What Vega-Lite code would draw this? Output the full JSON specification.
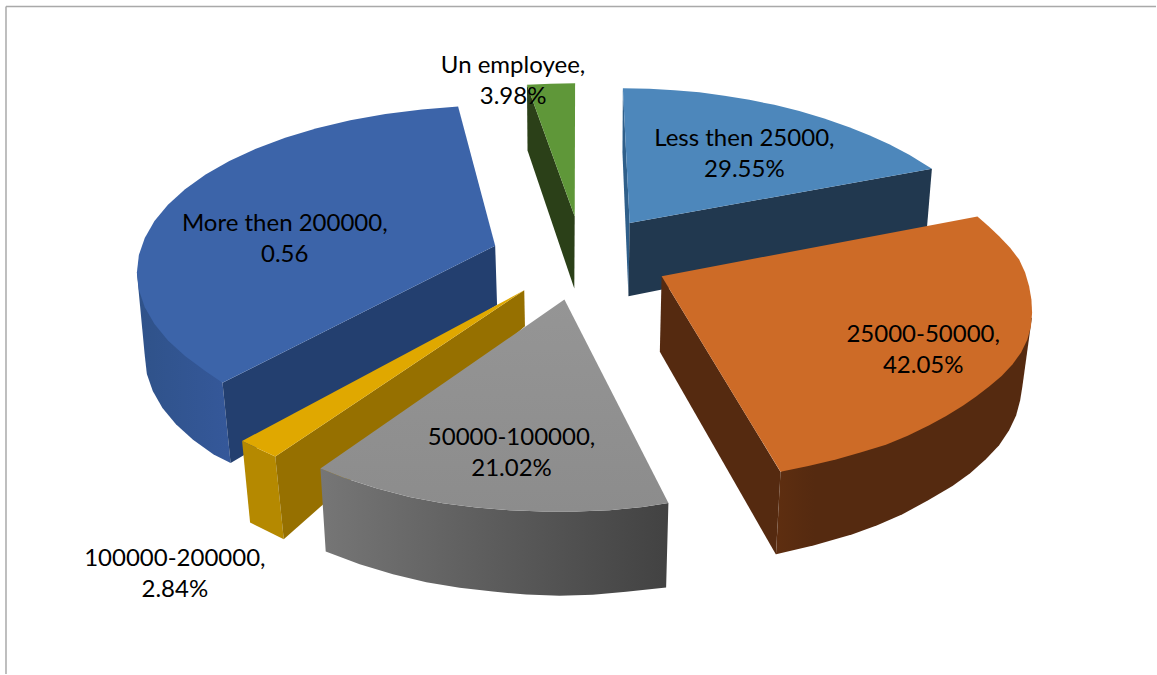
{
  "$schema": "https://vega.github.io/schema/vega-lite/v6.json",
  "autosize": {"type": "fit", "contains": "padding"},
  "width": 1157,
  "height": 675,
  "padding": 0,
  "background": "#ffffff",
  "view": {"stroke": null},
  "datasets": {
    "frame": [
      {"edge": "left", "x": 6, "x2": 6, "y": 6.5, "y2": 675},
      {"edge": "top", "x": 6, "x2": 1157, "y": 6.5, "y2": 6.5}
    ],
    "labels": [
      {"category": "Un employee", "share": "3.98%", "text": "Un employee,\n3.98%", "x": 513.5, "y": 66},
      {"category": "More then 200000", "share": "0.56", "text": "More then 200000,\n0.56", "x": 285, "y": 224},
      {"category": "Less then 25000", "share": "29.55%", "text": "Less then 25000,\n29.55%", "x": 745, "y": 139},
      {"category": "25000-50000", "share": "42.05%", "text": "25000-50000,\n42.05%", "x": 924, "y": 335},
      {"category": "50000-100000", "share": "21.02%", "text": "50000-100000,\n21.02%", "x": 512, "y": 439},
      {"category": "100000-200000", "share": "2.84%", "text": "100000-200000,\n2.84%", "x": 175, "y": 560}
    ],
    "faces": [
      {"face": "green side", "i": 0, "x": 527.4, "y": 85},
      {"face": "green side", "i": 1, "x": 528, "y": 150.7},
      {"face": "green side", "i": 2, "x": 574.8, "y": 289},
      {"face": "green side", "i": 3, "x": 575.2, "y": 216.7},

      {"face": "green top", "i": 0, "x": 527.4, "y": 85},
      {"face": "green top", "i": 1, "x": 551, "y": 83.8},
      {"face": "green top", "i": 2, "x": 575.6, "y": 83.3},
      {"face": "green top", "i": 3, "x": 575.2, "y": 216.7},

      {"face": "sky edge", "i": 0, "x": 623.4, "y": 88.3},
      {"face": "sky edge", "i": 1, "x": 623, "y": 153},
      {"face": "sky edge", "i": 2, "x": 629, "y": 296.7},
      {"face": "sky edge", "i": 3, "x": 630.2, "y": 223.3},

      {"face": "sky side", "i": 0, "x": 630.2, "y": 223.3},
      {"face": "sky side", "i": 1, "x": 932.7, "y": 169},
      {"face": "sky side", "i": 2, "x": 927, "y": 237},
      {"face": "sky side", "i": 3, "x": 629, "y": 296.7},

      {"face": "sky top", "i": 0, "x": 623.4, "y": 88.3},
      {"face": "sky top", "i": 1, "x": 650, "y": 88.8},
      {"face": "sky top", "i": 2, "x": 675, "y": 90.3},
      {"face": "sky top", "i": 3, "x": 700, "y": 92.5},
      {"face": "sky top", "i": 4, "x": 725, "y": 95.8},
      {"face": "sky top", "i": 5, "x": 750, "y": 100},
      {"face": "sky top", "i": 6, "x": 775, "y": 105},
      {"face": "sky top", "i": 7, "x": 800, "y": 111.2},
      {"face": "sky top", "i": 8, "x": 825, "y": 118.8},
      {"face": "sky top", "i": 9, "x": 850, "y": 127.5},
      {"face": "sky top", "i": 10, "x": 870, "y": 135.5},
      {"face": "sky top", "i": 11, "x": 890, "y": 144.5},
      {"face": "sky top", "i": 12, "x": 910, "y": 155},
      {"face": "sky top", "i": 13, "x": 932.7, "y": 169},
      {"face": "sky top", "i": 14, "x": 630.2, "y": 223.3},

      {"face": "blue rim", "i": 0, "x": 137, "y": 273},
      {"face": "blue rim", "i": 1, "x": 145, "y": 357},
      {"face": "blue rim", "i": 2, "x": 147, "y": 374.5},
      {"face": "blue rim", "i": 3, "x": 152.9, "y": 391.7},
      {"face": "blue rim", "i": 4, "x": 162.6, "y": 408.6},
      {"face": "blue rim", "i": 5, "x": 176.1, "y": 424.9},
      {"face": "blue rim", "i": 6, "x": 193.2, "y": 440.5},
      {"face": "blue rim", "i": 7, "x": 213.8, "y": 455.2},
      {"face": "blue rim", "i": 8, "x": 230.8, "y": 463.7},
      {"face": "blue rim", "i": 9, "x": 222.7, "y": 383.3},

      {"face": "blue side", "i": 0, "x": 222.7, "y": 383.3},
      {"face": "blue side", "i": 1, "x": 495.6, "y": 246},
      {"face": "blue side", "i": 2, "x": 497.5, "y": 305.5},
      {"face": "blue side", "i": 3, "x": 230.8, "y": 463.7},

      {"face": "blue top", "i": 0, "x": 458.5, "y": 106.7},
      {"face": "blue top", "i": 1, "x": 422.2, "y": 109.7},
      {"face": "blue top", "i": 2, "x": 385.8, "y": 114.2},
      {"face": "blue top", "i": 3, "x": 350.6, "y": 120.4},
      {"face": "blue top", "i": 4, "x": 317, "y": 128.4},
      {"face": "blue top", "i": 5, "x": 285.4, "y": 137.9},
      {"face": "blue top", "i": 6, "x": 256.1, "y": 148.9},
      {"face": "blue top", "i": 7, "x": 229.5, "y": 161.3},
      {"face": "blue top", "i": 8, "x": 205.8, "y": 174.8},
      {"face": "blue top", "i": 9, "x": 185.2, "y": 189.5},
      {"face": "blue top", "i": 10, "x": 168.1, "y": 205.1},
      {"face": "blue top", "i": 11, "x": 154.6, "y": 221.4},
      {"face": "blue top", "i": 12, "x": 144.9, "y": 238.3},
      {"face": "blue top", "i": 13, "x": 139, "y": 255.5},
      {"face": "blue top", "i": 14, "x": 137, "y": 273},
      {"face": "blue top", "i": 15, "x": 139, "y": 290.5},
      {"face": "blue top", "i": 16, "x": 144.9, "y": 307.7},
      {"face": "blue top", "i": 17, "x": 154.6, "y": 324.6},
      {"face": "blue top", "i": 18, "x": 168.1, "y": 340.9},
      {"face": "blue top", "i": 19, "x": 185.2, "y": 356.5},
      {"face": "blue top", "i": 20, "x": 205.8, "y": 371.7},
      {"face": "blue top", "i": 21, "x": 222.7, "y": 383.3},
      {"face": "blue top", "i": 22, "x": 495.6, "y": 246},

      {"face": "gold front", "i": 0, "x": 242.3, "y": 441.7},
      {"face": "gold front", "i": 1, "x": 275.5, "y": 457.3},
      {"face": "gold front", "i": 2, "x": 284, "y": 540},
      {"face": "gold front", "i": 3, "x": 250.3, "y": 523.3},

      {"face": "gold side", "i": 0, "x": 275.5, "y": 457.3},
      {"face": "gold side", "i": 1, "x": 524.7, "y": 290.7},
      {"face": "gold side", "i": 2, "x": 525.4, "y": 326.7},
      {"face": "gold side", "i": 3, "x": 284, "y": 540},

      {"face": "gold top", "i": 0, "x": 242.3, "y": 441.7},
      {"face": "gold top", "i": 1, "x": 275.5, "y": 457.3},
      {"face": "gold top", "i": 2, "x": 524.7, "y": 290.7},

      {"face": "grey rim", "i": 0, "x": 320.7, "y": 469.3},
      {"face": "grey rim", "i": 1, "x": 343.3, "y": 478.3},
      {"face": "grey rim", "i": 2, "x": 376.7, "y": 489},
      {"face": "grey rim", "i": 3, "x": 410, "y": 497.7},
      {"face": "grey rim", "i": 4, "x": 443.3, "y": 504},
      {"face": "grey rim", "i": 5, "x": 476.7, "y": 508.3},
      {"face": "grey rim", "i": 6, "x": 510, "y": 511},
      {"face": "grey rim", "i": 7, "x": 543.3, "y": 512.3},
      {"face": "grey rim", "i": 8, "x": 576.7, "y": 512.3},
      {"face": "grey rim", "i": 9, "x": 610, "y": 511},
      {"face": "grey rim", "i": 10, "x": 643.3, "y": 507.7},
      {"face": "grey rim", "i": 11, "x": 669, "y": 503.7},
      {"face": "grey rim", "i": 12, "x": 666.7, "y": 588.3},
      {"face": "grey rim", "i": 13, "x": 626.7, "y": 592.7},
      {"face": "grey rim", "i": 14, "x": 593.3, "y": 595.7},
      {"face": "grey rim", "i": 15, "x": 560, "y": 596.7},
      {"face": "grey rim", "i": 16, "x": 526.7, "y": 595.5},
      {"face": "grey rim", "i": 17, "x": 493.3, "y": 592.5},
      {"face": "grey rim", "i": 18, "x": 460, "y": 588.5},
      {"face": "grey rim", "i": 19, "x": 426.7, "y": 583},
      {"face": "grey rim", "i": 20, "x": 393.3, "y": 575},
      {"face": "grey rim", "i": 21, "x": 360, "y": 565},
      {"face": "grey rim", "i": 22, "x": 326, "y": 552.3},

      {"face": "grey top", "i": 0, "x": 564.9, "y": 300},
      {"face": "grey top", "i": 1, "x": 669, "y": 503.7},
      {"face": "grey top", "i": 2, "x": 643.3, "y": 507.7},
      {"face": "grey top", "i": 3, "x": 610, "y": 511},
      {"face": "grey top", "i": 4, "x": 576.7, "y": 512.3},
      {"face": "grey top", "i": 5, "x": 543.3, "y": 512.3},
      {"face": "grey top", "i": 6, "x": 510, "y": 511},
      {"face": "grey top", "i": 7, "x": 476.7, "y": 508.3},
      {"face": "grey top", "i": 8, "x": 443.3, "y": 504},
      {"face": "grey top", "i": 9, "x": 410, "y": 497.7},
      {"face": "grey top", "i": 10, "x": 376.7, "y": 489},
      {"face": "grey top", "i": 11, "x": 343.3, "y": 478.3},
      {"face": "grey top", "i": 12, "x": 320.7, "y": 469.3},

      {"face": "orange side", "i": 0, "x": 662.2, "y": 276.7},
      {"face": "orange side", "i": 1, "x": 660.4, "y": 352.3},
      {"face": "orange side", "i": 2, "x": 776.6, "y": 555.3},
      {"face": "orange side", "i": 3, "x": 781.2, "y": 472.7},

      {"face": "orange rim", "i": 0, "x": 781.2, "y": 472.5},
      {"face": "orange rim", "i": 1, "x": 1032.8, "y": 318},
      {"face": "orange rim", "i": 2, "x": 1023.3, "y": 386.7},
      {"face": "orange rim", "i": 3, "x": 1021, "y": 401},
      {"face": "orange rim", "i": 4, "x": 1017, "y": 416},
      {"face": "orange rim", "i": 5, "x": 1010, "y": 431},
      {"face": "orange rim", "i": 6, "x": 1000, "y": 446},
      {"face": "orange rim", "i": 7, "x": 986.7, "y": 460},
      {"face": "orange rim", "i": 8, "x": 971, "y": 474},
      {"face": "orange rim", "i": 9, "x": 953.3, "y": 486.7},
      {"face": "orange rim", "i": 10, "x": 929, "y": 501},
      {"face": "orange rim", "i": 11, "x": 903.3, "y": 515},
      {"face": "orange rim", "i": 12, "x": 878, "y": 526},
      {"face": "orange rim", "i": 13, "x": 853.3, "y": 535},
      {"face": "orange rim", "i": 14, "x": 815, "y": 546},
      {"face": "orange rim", "i": 15, "x": 776.7, "y": 555},

      {"face": "orange top", "i": 0, "x": 662.2, "y": 276.7},
      {"face": "orange top", "i": 1, "x": 978.3, "y": 216.7},
      {"face": "orange top", "i": 2, "x": 990, "y": 227},
      {"face": "orange top", "i": 3, "x": 1000, "y": 236.7},
      {"face": "orange top", "i": 4, "x": 1011, "y": 248},
      {"face": "orange top", "i": 5, "x": 1020, "y": 260},
      {"face": "orange top", "i": 6, "x": 1026, "y": 273},
      {"face": "orange top", "i": 7, "x": 1030, "y": 286.7},
      {"face": "orange top", "i": 8, "x": 1032.3, "y": 300},
      {"face": "orange top", "i": 9, "x": 1033, "y": 313.3},
      {"face": "orange top", "i": 10, "x": 1031.8, "y": 327},
      {"face": "orange top", "i": 11, "x": 1028.3, "y": 340},
      {"face": "orange top", "i": 12, "x": 1022, "y": 353},
      {"face": "orange top", "i": 13, "x": 1013.3, "y": 365},
      {"face": "orange top", "i": 14, "x": 1002.5, "y": 376.5},
      {"face": "orange top", "i": 15, "x": 990, "y": 387},
      {"face": "orange top", "i": 16, "x": 977, "y": 397},
      {"face": "orange top", "i": 17, "x": 963.3, "y": 406.5},
      {"face": "orange top", "i": 18, "x": 947, "y": 416.5},
      {"face": "orange top", "i": 19, "x": 930, "y": 426},
      {"face": "orange top", "i": 20, "x": 908.5, "y": 436.5},
      {"face": "orange top", "i": 21, "x": 886.7, "y": 445.5},
      {"face": "orange top", "i": 22, "x": 862, "y": 453},
      {"face": "orange top", "i": 23, "x": 836.7, "y": 460.3},
      {"face": "orange top", "i": 24, "x": 809, "y": 466.8},
      {"face": "orange top", "i": 25, "x": 781.2, "y": 472.5}
    ]
  },
  "encoding": {
    "x": {"field": "x", "type": "quantitative", "scale": {"domain": [0, 1157]}, "axis": null},
    "y": {"field": "y", "type": "quantitative", "scale": {"domain": [675, 0]}, "axis": null}
  },
  "layer": [
    {
      "data": {"name": "frame"},
      "mark": {"type": "rule", "color": "#a9a9a9", "strokeWidth": 1.5},
      "encoding": {"x2": {"field": "x2"}, "y2": {"field": "y2"}}
    },
    {
      "data": {"name": "faces"},
      "transform": [{"filter": "datum.face === 'blue rim'"}],
      "mark": {
        "type": "line", "filled": true, "interpolate": "linear-closed", "strokeWidth": 0,
        "fill": {"gradient": "linear", "x1": 0, "y1": 0, "x2": 1, "y2": 0, "stops": [{"offset": 0, "color": "#2f5289"}, {"offset": 1, "color": "#35589a"}]}
      },
      "encoding": {"order": {"field": "i", "type": "quantitative"}}
    },
    {
      "data": {"name": "faces"},
      "transform": [{"filter": "datum.face === 'orange rim'"}],
      "mark": {
        "type": "line", "filled": true, "interpolate": "linear-closed", "strokeWidth": 0,
        "fill": {"gradient": "linear", "x1": 0, "y1": 0, "x2": 1, "y2": 0, "stops": [{"offset": 0, "color": "#5e2e10"}, {"offset": 0.15, "color": "#552a10"}, {"offset": 1, "color": "#552a10"}]}
      },
      "encoding": {"order": {"field": "i", "type": "quantitative"}}
    },
    {
      "data": {"name": "faces"},
      "transform": [{"filter": "datum.face !== 'blue rim' && datum.face !== 'orange rim' && datum.face !== 'grey rim' && datum.face !== 'grey top'"}],
      "mark": {"type": "line", "filled": true, "interpolate": "linear-closed", "strokeWidth": 0},
      "encoding": {
        "order": {"field": "i", "type": "quantitative"},
        "color": {
          "field": "face",
          "type": "nominal",
          "legend": null,
          "scale": {
            "domain": ["green side", "green top", "sky edge", "sky side", "sky top", "blue side", "blue top", "gold front", "gold side", "gold top", "orange side", "orange top"],
            "range": ["#2b4018", "#5f9739", "#2f5f8a", "#21384f", "#4d87bb", "#233f6f", "#3c64a9", "#b58900", "#967000", "#e0a800", "#552a10", "#cd6b27"]
          }
        }
      }
    },
    {
      "data": {"name": "faces"},
      "transform": [{"filter": "datum.face === 'grey rim'"}],
      "mark": {
        "type": "line", "filled": true, "interpolate": "linear-closed", "strokeWidth": 0,
        "fill": {"gradient": "linear", "x1": 0, "y1": 0, "x2": 1, "y2": 0, "stops": [{"offset": 0, "color": "#767676"}, {"offset": 1, "color": "#424242"}]}
      },
      "encoding": {"order": {"field": "i", "type": "quantitative"}}
    },
    {
      "data": {"name": "faces"},
      "transform": [{"filter": "datum.face === 'grey top'"}],
      "mark": {
        "type": "line", "filled": true, "interpolate": "linear-closed", "strokeWidth": 0,
        "fill": {"gradient": "linear", "x1": 0, "y1": 0, "x2": 0, "y2": 1, "stops": [{"offset": 0, "color": "#959595"}, {"offset": 1, "color": "#8c8c8c"}]}
      },
      "encoding": {"order": {"field": "i", "type": "quantitative"}}
    },
    {
      "data": {"name": "labels"},
      "mark": {"type": "text", "font": "Lato", "fontSize": 24, "lineHeight": 31, "lineBreak": "\n", "align": "center", "baseline": "middle", "color": "#000000"},
      "encoding": {"text": {"field": "text", "type": "nominal"}}
    }
  ]
}
